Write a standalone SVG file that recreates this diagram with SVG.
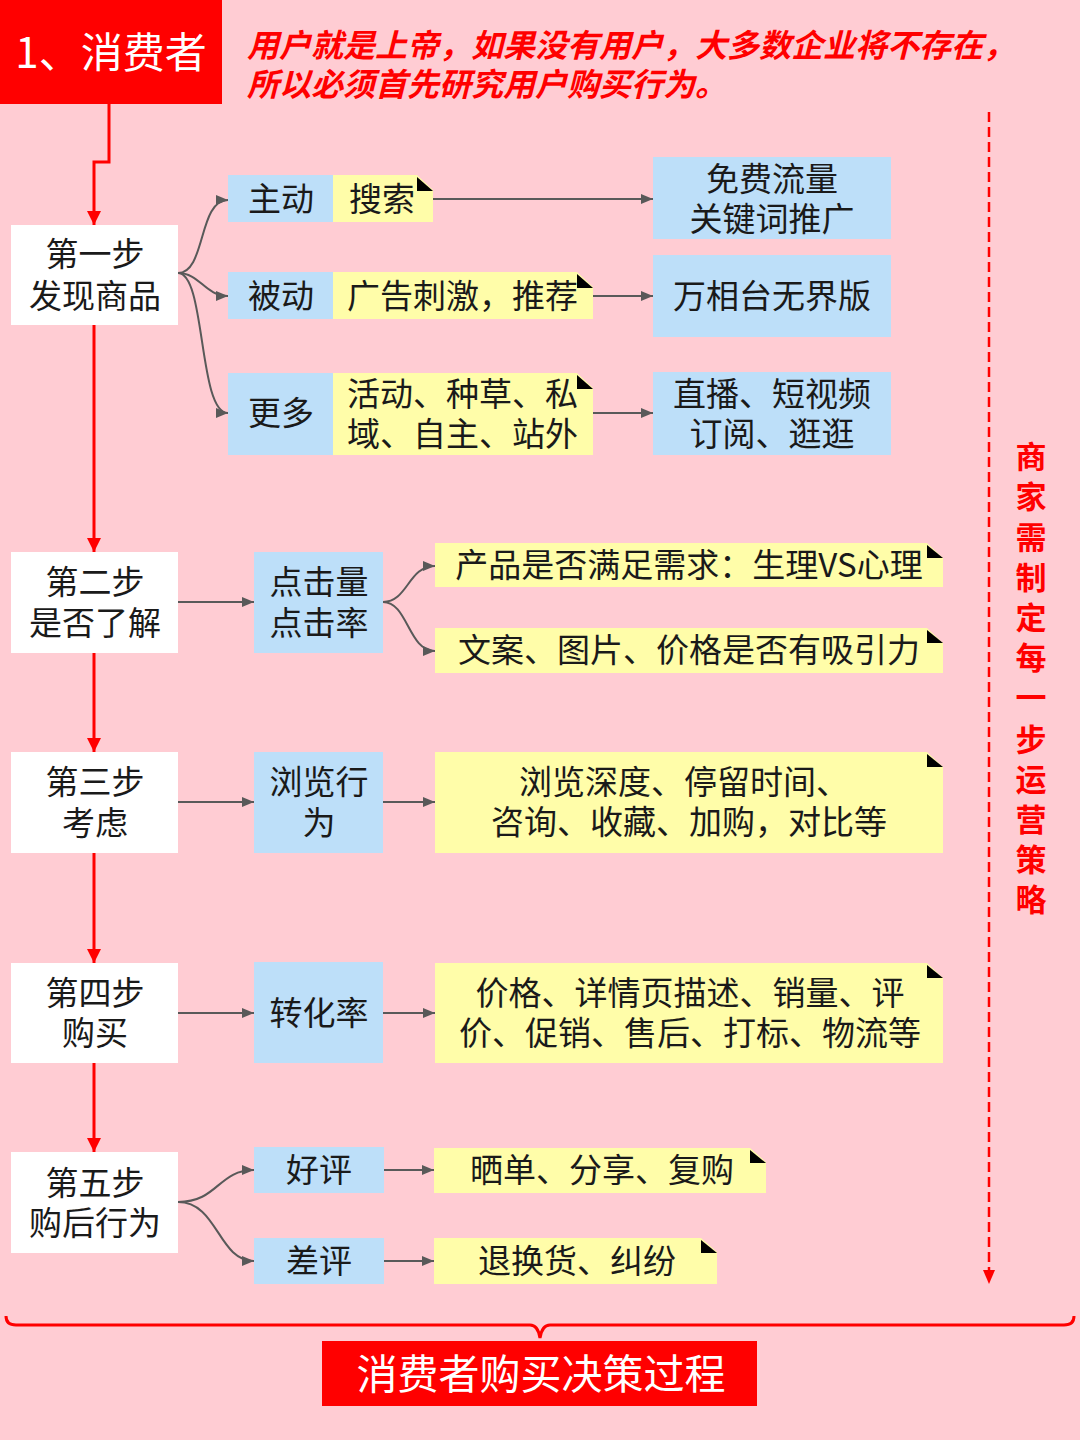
<svg xmlns="http://www.w3.org/2000/svg" width="1080" height="1440" viewBox="0 0 1080 1440">
<defs>
<marker id="ag" viewBox="0 0 12 10" refX="12" refY="5" markerWidth="12" markerHeight="10" markerUnits="userSpaceOnUse" orient="auto"><path d="M0,0 L12,5 L0,10 Z" fill="#595959"/></marker>
<marker id="ar" viewBox="0 0 14 14" refX="14" refY="7" markerWidth="14" markerHeight="14" markerUnits="userSpaceOnUse" orient="auto"><path d="M0,0 L14,7 L0,14 Z" fill="#FF0000"/></marker>
<style>
.t{font-family:"Noto Sans CJK SC","Noto Sans",sans-serif;font-size:33px;fill:#1a1a1a;text-anchor:middle}
.tl{text-anchor:start}
.step{fill:#FFFFFF}
.blue{fill:#BDDFF9}
.yel{fill:#FFFDA9}
.ear{fill:#000}
.g{fill:none;stroke:#595959;stroke-width:2;marker-end:url(#ag)}
.r{fill:none;stroke:#FF0000;stroke-width:3;marker-end:url(#ar)}
</style>
</defs>
<rect x="0" y="0" width="1080" height="1440" fill="#FFCCD3"/>

<g id="title">
<rect x="0" y="0" width="222" height="104" fill="#FF0000"/>
<text x="111" y="68" class="t" style="fill:#fff;font-size:42px">1、消费者</text>
</g>
<g id="header">
<text x="247" y="57" class="t tl" style="fill:#FF0000;font-size:32px;font-weight:bold;font-style:italic">用户就是上帝，如果没有用户，大多数企业将不存在，</text>
<text x="247" y="96" class="t tl" style="fill:#FF0000;font-size:32px;font-weight:bold;font-style:italic">所以必须首先研究用户购买行为。</text>
</g>

<g id="connectors">
<path class="r" d="M109,104 V162 H94 V225"/>
<path class="r" d="M94,325 V552"/>
<path class="r" d="M94,653 V752"/>
<path class="r" d="M94,853 V963"/>
<path class="r" d="M94,1063 V1152"/>
<path class="g" d="M178,273 C206,273 198,200 228,200"/>
<path class="g" d="M178,273 C200,273 205,296 228,296"/>
<path class="g" d="M178,273 C206,273 198,413 228,413"/>
<path class="g" d="M433,199 H653"/>
<path class="g" d="M593,296 H653"/>
<path class="g" d="M593,413 H653"/>
<path class="g" d="M178,602 H254"/>
<path class="g" d="M383,602 C408,602 408,566 435,566"/>
<path class="g" d="M383,602 C408,602 408,651 435,651"/>
<path class="g" d="M178,802 H254"/>
<path class="g" d="M383,802 H435"/>
<path class="g" d="M178,1013 H254"/>
<path class="g" d="M383,1013 H435"/>
<path class="g" d="M178,1202 C218,1202 218,1170 254,1170"/>
<path class="g" d="M178,1202 C218,1202 218,1261 254,1261"/>
<path class="g" d="M384,1170 H434"/>
<path class="g" d="M384,1261 H434"/>
<path d="M989,112 V1270" fill="none" stroke="#FF0000" stroke-width="2.5" stroke-dasharray="10 5"/>
<path d="M983,1270 L995,1270 L989,1284 Z" fill="#FF0000"/>
<path d="M6,1316 Q6,1325 16,1325 H530 Q538,1325 540,1338 Q542,1325 550,1325 H1064 Q1074,1325 1074,1316" fill="none" stroke="#FF0000" stroke-width="3"/>
</g>

<g id="step1">
<rect class="step" x="11" y="225" width="167" height="100"/>
<text class="t" x="95" y="266">第一步</text>
<text class="t" x="95" y="308">发现商品</text>
</g>
<g id="zhudong">
<rect class="blue" x="228" y="175" width="105" height="47"/>
<text class="t" x="281" y="211">主动</text>
</g>
<g id="sousuo">
<path class="yel" d="M333,175 H417 L433,190 V222 H333 Z"/>
<path class="ear" d="M417,177 L433,191 L417,191 Z"/>
<text class="t" x="382" y="211">搜索</text>
</g>
<g id="beidong">
<rect class="blue" x="228" y="272" width="105" height="47"/>
<text class="t" x="281" y="308">被动</text>
</g>
<g id="guanggao">
<path class="yel" d="M333,272 H577 L593,287 V319 H333 Z"/>
<path class="ear" d="M577,274 L593,288 L577,288 Z"/>
<text class="t tl" x="347" y="308">广告刺激，推荐</text>
</g>
<g id="gengduo">
<rect class="blue" x="228" y="373" width="105" height="82"/>
<text class="t" x="281" y="425">更多</text>
</g>
<g id="huodong">
<path class="yel" d="M333,373 H577 L593,388 V455 H333 Z"/>
<path class="ear" d="M577,375 L593,389 L577,389 Z"/>
<text class="t tl" x="347" y="406">活动、种草、私</text>
<text class="t tl" x="347" y="446">域、自主、站外</text>
</g>
<g id="mianfei">
<rect class="blue" x="653" y="157" width="238" height="82"/>
<text class="t" x="772" y="191">免费流量</text>
<text class="t" x="772" y="231">关键词推广</text>
</g>
<g id="wanxiang">
<rect class="blue" x="653" y="255" width="238" height="82"/>
<text class="t" x="772" y="308">万相台无界版</text>
</g>
<g id="zhibo">
<rect class="blue" x="653" y="372" width="238" height="83"/>
<text class="t" x="772" y="406">直播、短视频</text>
<text class="t" x="772" y="446">订阅、逛逛</text>
</g>

<g id="step2">
<rect class="step" x="11" y="552" width="167" height="101"/>
<text class="t" x="95" y="594">第二步</text>
<text class="t" x="95" y="635">是否了解</text>
</g>
<g id="dianji">
<rect class="blue" x="254" y="552" width="129" height="101"/>
<text class="t" x="319" y="594">点击量</text>
<text class="t" x="319" y="635">点击率</text>
</g>
<g id="chanpin">
<path class="yel" d="M435,543 H927 L943,558 V587 H435 Z"/>
<path class="ear" d="M927,545 L943,558 L927,558 Z"/>
<text class="t" x="689" y="577">产品是否满足需求：生理VS心理</text>
</g>
<g id="wenan">
<path class="yel" d="M435,628 H927 L943,643 V673 H435 Z"/>
<path class="ear" d="M927,630 L943,643 L927,643 Z"/>
<text class="t" x="689" y="662">文案、图片、价格是否有吸引力</text>
</g>

<g id="step3">
<rect class="step" x="11" y="752" width="167" height="101"/>
<text class="t" x="95" y="794">第三步</text>
<text class="t" x="95" y="835">考虑</text>
</g>
<g id="liulan">
<rect class="blue" x="254" y="752" width="129" height="101"/>
<text class="t" x="319" y="794">浏览行</text>
<text class="t" x="319" y="835">为</text>
</g>
<g id="shendu">
<path class="yel" d="M435,752 H927 L943,767 V853 H435 Z"/>
<path class="ear" d="M927,754 L943,767 L927,767 Z"/>
<text class="t" x="684" y="794">浏览深度、停留时间、</text>
<text class="t" x="689" y="834">咨询、收藏、加购，对比等</text>
</g>

<g id="step4">
<rect class="step" x="11" y="963" width="167" height="100"/>
<text class="t" x="95" y="1005">第四步</text>
<text class="t" x="95" y="1045">购买</text>
</g>
<g id="zhuanhua">
<rect class="blue" x="254" y="962" width="129" height="101"/>
<text class="t" x="319" y="1025">转化率</text>
</g>
<g id="jiage">
<path class="yel" d="M435,963 H927 L943,978 V1063 H435 Z"/>
<path class="ear" d="M927,965 L943,978 L927,978 Z"/>
<text class="t" x="690" y="1005">价格、详情页描述、销量、评</text>
<text class="t" x="690" y="1045">价、促销、售后、打标、物流等</text>
</g>

<g id="step5">
<rect class="step" x="11" y="1152" width="167" height="101"/>
<text class="t" x="95" y="1195">第五步</text>
<text class="t" x="95" y="1235">购后行为</text>
</g>
<g id="haoping">
<rect class="blue" x="254" y="1147" width="130" height="46"/>
<text class="t" x="319" y="1182">好评</text>
</g>
<g id="shaidan">
<path class="yel" d="M434,1148 H750 L766,1162 V1193 H434 Z"/>
<path class="ear" d="M750,1150 L766,1163 L750,1163 Z"/>
<text class="t" x="602" y="1182">晒单、分享、复购</text>
</g>
<g id="chaping">
<rect class="blue" x="254" y="1238" width="130" height="46"/>
<text class="t" x="319" y="1273">差评</text>
</g>
<g id="tuihuan">
<path class="yel" d="M434,1238 H701 L717,1252 V1284 H434 Z"/>
<path class="ear" d="M701,1240 L717,1253 L701,1253 Z"/>
<text class="t" x="577" y="1273">退换货、纠纷</text>
</g>

<g id="strategy">
<text class="t" style="fill:#FF0000;font-weight:bold;font-size:31px" x="1031">
<tspan x="1031" y="468">商</tspan><tspan x="1031" y="508">家</tspan><tspan x="1031" y="549">需</tspan><tspan x="1031" y="589">制</tspan><tspan x="1031" y="629">定</tspan><tspan x="1031" y="669">每</tspan><tspan x="1031" y="709">一</tspan><tspan x="1031" y="751">步</tspan><tspan x="1031" y="791">运</tspan><tspan x="1031" y="831">营</tspan><tspan x="1031" y="871">策</tspan><tspan x="1031" y="911">略</tspan>
</text>
</g>

<g id="footer">
<rect x="322" y="1341" width="435" height="65" fill="#FF0000"/>
<text class="t" x="541" y="1389" style="fill:#fff;font-size:41px">消费者购买决策过程</text>
</g>
</svg>
